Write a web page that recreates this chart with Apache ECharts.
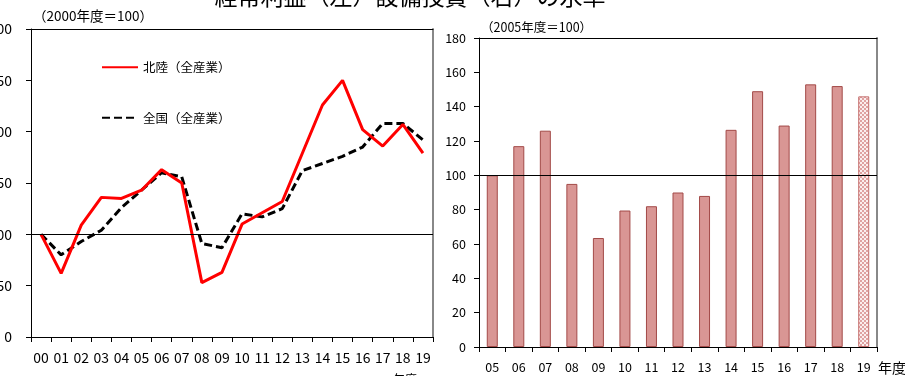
<!DOCTYPE html>
<html>
<head>
<meta charset="utf-8">
<script src="https://cdn.jsdelivr.net/npm/echarts@6/dist/echarts.min.js"></script>
<style>
  html, body { margin: 0; padding: 0; background: #fff; }
  #chart { width: 905px; height: 376px; }
</style>
</head>
<body>
<div id="chart"></div>
<script>
// 経常利益（2000年度＝100）
const profitYears = ["00", "01", "02", "03", "04", "05", "06", "07", "08", "09", "10", "11", "12", "13", "14", "15", "16", "17", "18", "19"];
const hokuriku = [100, 62, 109, 136, 135, 143, 163, 150, 53, 63, 110, 121, 132, 179, 226, 250, 202, 186, 207, 179];
const zenkoku = [100, 80, 93, 104, 126, 143, 160, 156, 91, 87, 120, 117, 125, 162, 169, 176, 185, 208, 208, 192];

// 設備投資（2005年度＝100）
const capexYears = ["05", "06", "07", "08", "09", "10", "11", "12", "13", "14", "15", "16", "17", "18", "19"];
const capex = [100, 117, 126, 95, 63.5, 79.5, 82, 90, 88, 126.5, 149, 129, 153, 152, 146];

const FONT = '"Noto Sans CJK JP", "Noto Sans", sans-serif';

// 19年度の網掛け
const tile = document.createElement("canvas");
tile.width = 4;
tile.height = 4;
const tctx = tile.getContext("2d");
tctx.fillStyle = "#fbeeee";
tctx.fillRect(0, 0, 4, 4);
tctx.fillStyle = "#dfa2a1";
tctx.fillRect(0, 0, 2, 2);
tctx.fillRect(2, 2, 2, 2);

const chart = echarts.init(document.getElementById("chart"));

const baseLine = {
  silent: true,
  symbol: "none",
  label: { show: false },
  lineStyle: { color: "#000", width: 1, type: "solid" },
  data: [{ yAxis: 100 }]
};

function frameX(gridIndex, data) {
  return {
    type: "category",
    gridIndex,
    data,
    position: "top",
    axisLine: { show: true, onZero: false, lineStyle: { color: "#000", width: 1 } },
    axisTick: { show: false },
    axisLabel: { show: false }
  };
}

function frameY(gridIndex) {
  return {
    type: "value",
    gridIndex,
    position: "right",
    axisLine: { show: true, onZero: false, lineStyle: { color: "#888", width: 2 } },
    axisTick: { show: false },
    axisLabel: { show: false },
    splitLine: { show: false }
  };
}

chart.setOption({
  animation: false,
  textStyle: { fontFamily: FONT },
  grid: [
    { left: 31, top: 29, width: 402, height: 308, containLabel: false, outerBoundsMode: "none" },
    { left: 479, top: 38, width: 398, height: 309, containLabel: false, outerBoundsMode: "none" }
  ],
  legend: {
    orient: "vertical",
    left: 101,
    top: 61,
    padding: 0,
    itemWidth: 36,
    itemHeight: 14,
    itemGap: 38,
    itemStyle: { opacity: 0 },
    textStyle: { fontSize: 12.5, color: "#000", fontFamily: FONT },
    data: ["北陸（全産業）", "全国（全産業）"]
  },
  xAxis: [
    {
      type: "category",
      gridIndex: 0,
      data: profitYears,
      axisLine: { lineStyle: { color: "#000", width: 1 } },
      axisTick: { show: true, length: 5, lineStyle: { color: "#000" } },
      axisLabel: { interval: 0, fontSize: 14, color: "#000", margin: 14 }
    },
    frameX(0, profitYears),
    {
      type: "category",
      gridIndex: 1,
      data: capexYears,
      axisLine: { lineStyle: { color: "#000", width: 1 } },
      axisTick: { show: true, length: 5, lineStyle: { color: "#000" } },
      axisLabel: { interval: 0, fontSize: 12.5, color: "#000", margin: 14 }
    },
    frameX(1, capexYears)
  ],
  yAxis: [
    {
      type: "value",
      gridIndex: 0,
      min: 0,
      max: 300,
      interval: 50,
      axisLine: { show: true, lineStyle: { color: "#000", width: 1 } },
      axisTick: { show: true, length: 5, lineStyle: { color: "#000" } },
      axisLabel: { fontSize: 14, color: "#000", margin: 19 },
      splitLine: { show: false }
    },
    frameY(0),
    {
      type: "value",
      gridIndex: 1,
      min: 0,
      max: 180,
      interval: 20,
      axisLine: { show: true, lineStyle: { color: "#000", width: 1 } },
      axisTick: { show: true, length: 5, lineStyle: { color: "#000" } },
      axisLabel: { fontSize: 12.5, color: "#000", margin: 13 },
      splitLine: { show: false }
    },
    frameY(1)
  ],
  series: [
    {
      name: "北陸（全産業）",
      type: "line",
      xAxisIndex: 0,
      yAxisIndex: 0,
      symbol: "none",
      color: "#ff0000",
      lineStyle: { color: "#ff0000", width: 3 },
      data: hokuriku,
      markLine: baseLine,
      z: 3
    },
    {
      name: "全国（全産業）",
      type: "line",
      xAxisIndex: 0,
      yAxisIndex: 0,
      symbol: "none",
      color: "#000",
      lineStyle: { color: "#000", width: 3, type: [8, 4] },
      data: zenkoku,
      z: 2
    },
    {
      name: "設備投資",
      type: "bar",
      xAxisIndex: 2,
      yAxisIndex: 2,
      barWidth: 11,
      itemStyle: { color: "#d99694", borderColor: "#a34a48", borderWidth: 1 },
      data: capex.map((v, i) =>
        i === capex.length - 1
          ? { value: v, itemStyle: { color: { image: tile, repeat: "repeat" }, borderColor: "#c46e6c" } }
          : v
      ),
      markLine: baseLine
    }
  ],
  graphic: [
    {
      type: "text",
      x: 410,
      y: -4,
      style: { text: "経常利益（左）設備投資（右）の水準", font: "23px " + FONT, fill: "#000", textAlign: "center", textVerticalAlign: "middle" }
    },
    {
      type: "text",
      x: 33,
      y: 16,
      style: { text: "（2000年度＝100）", font: "13.5px " + FONT, fill: "#000", textVerticalAlign: "middle" }
    },
    {
      type: "text",
      x: 481,
      y: 27,
      style: { text: "（2005年度＝100）", font: "12.5px " + FONT, fill: "#000", textVerticalAlign: "middle" }
    },
    {
      type: "text",
      x: 393,
      y: 379,
      style: { text: "年度", font: "12px " + FONT, fill: "#000", textVerticalAlign: "middle" }
    },
    {
      type: "text",
      x: 878,
      y: 368,
      style: { text: "年度", font: "14px " + FONT, fill: "#000", textVerticalAlign: "middle" }
    }
  ]
});
</script>
</body>
</html>
